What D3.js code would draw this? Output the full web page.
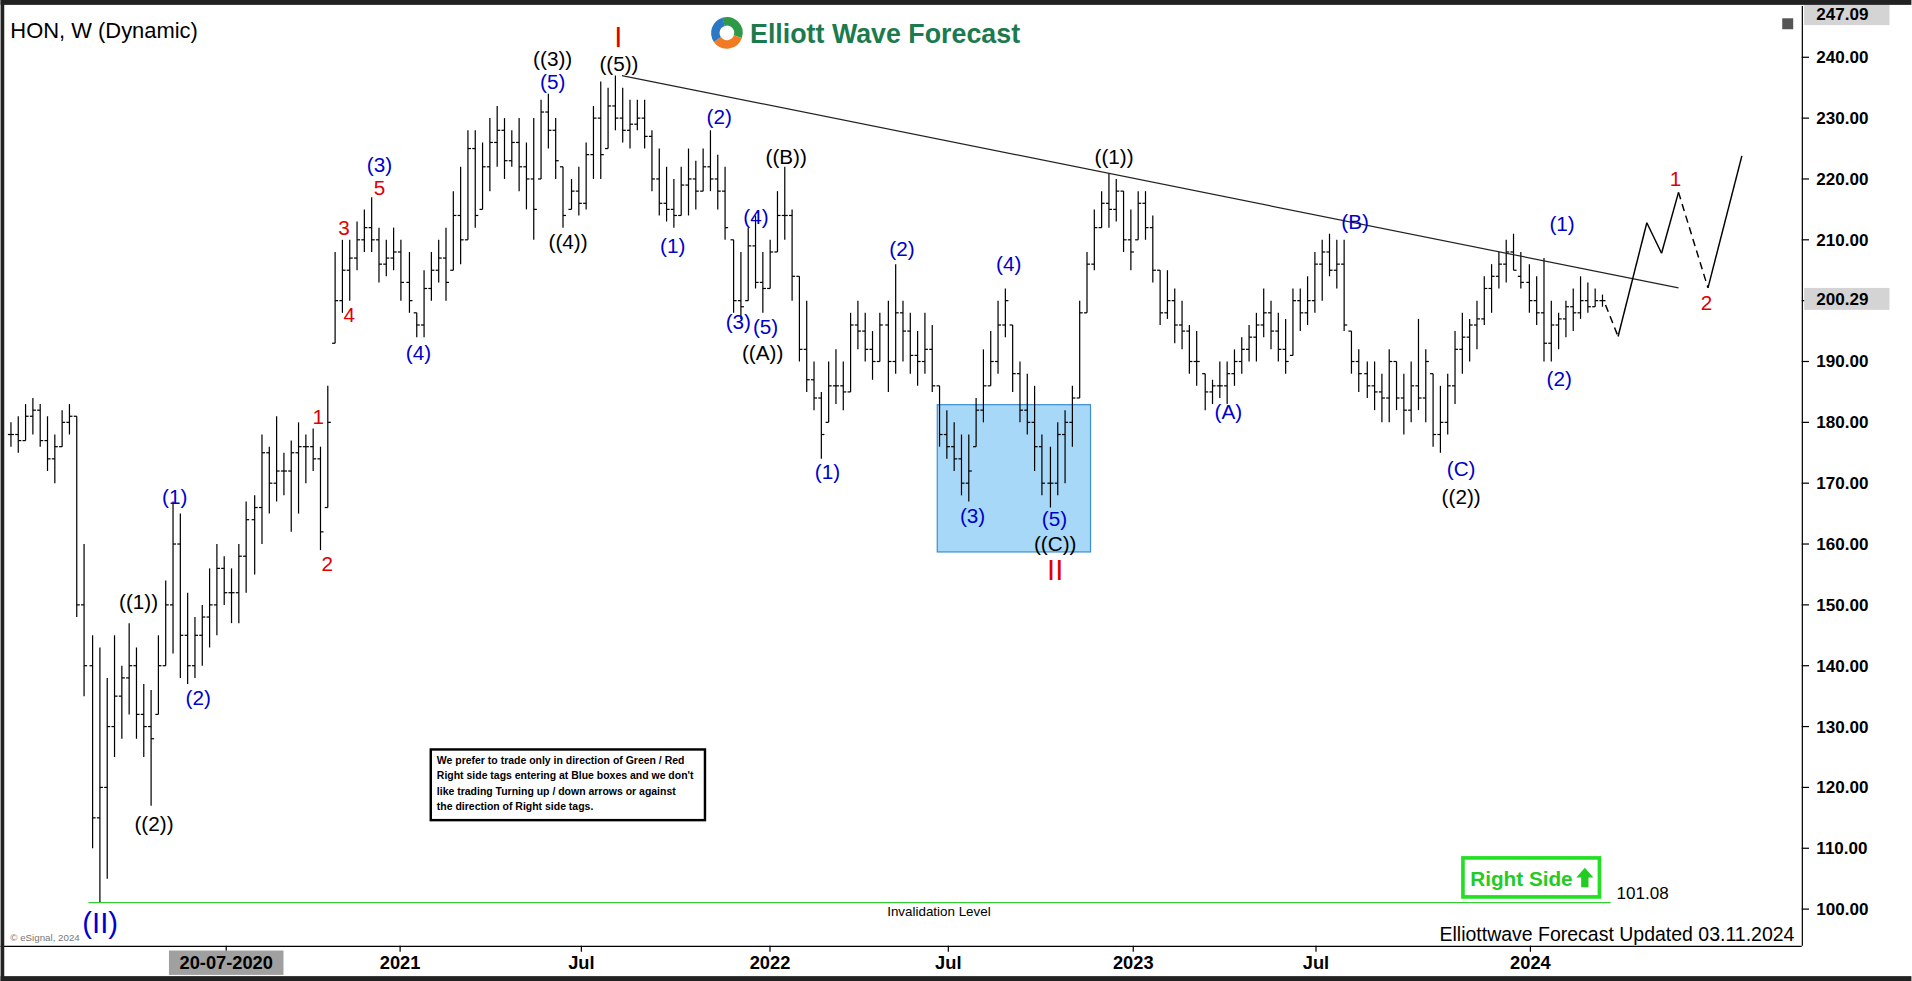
<!DOCTYPE html>
<html>
<head>
<meta charset="utf-8">
<script src="https://cdn.jsdelivr.net/npm/d3@7"></script>
<style>
  body { margin: 0; background: #fff; overflow: hidden; }
  text { font-family: "Liberation Sans", Arial, sans-serif; }
</style>
</head>
<body>
<svg id="chart" width="1912" height="981" viewBox="0 0 1568 805"></svg>
<script>
// weekly bars, HON
var highs = [180,181,183,184,183,181,178,182,183,
  181,160,145,143,138,145,140,147,143,137,136,145,154,167,165,152,148,150,156,160,158,156,160,167,168,178,176,181,175,177,180,178,179,176,186,
  208,210,210,213,215,217,212,210,212,210,208,198,205,208,210,212,218,222,228,228,226,230,232,230,228,230,226,230,233,234,230,222,220,222,226,232,236,235,237,235,
  233,233,233,228,225,222,220,222,225,223,225,228,224,222,210,208,212,214,208,210,218,222,215,204,200,190,185,190,192,190,198,200,198,195,198,200,206,200,198,195,
  198,196,186,182,180,178,178,184,192,195,200,202,196,190,188,186,178,176,180,182,186,200,208,215,218,221,220,218,215,218,218,214,205,205,202,200,196,195,188,187,
  190,190,192,194,196,198,202,200,198,197,202,202,204,208,210,211,210,210,195,192,190,190,188,192,190,188,190,197,192,188,186,188,195,198,197,200,204,206,208,210,
  211,208,206,204,207,200,198,200,202,204,203,202,201];
var lows = [176,175,177,178,176,172,170,176,178,
  148,135,110,101,105,125,128,132,128,125,117,132,140,142,138,137,138,140,143,145,150,147,147,152,155,160,165,167,168,162,165,170,172,159,166,
  193,198,200,205,208,208,203,204,205,200,198,194,194,200,203,200,205,206,210,212,215,218,222,220,222,218,215,210,220,225,220,212,215,214,215,220,220,225,228,226,
  225,228,225,218,214,213,212,214,214,215,218,218,215,210,198,197,200,202,198,202,208,210,200,190,185,182,174,180,183,182,185,192,190,187,190,185,188,190,188,186,
  188,185,176,174,172,168,167,176,180,186,188,194,185,180,178,172,168,166,168,170,176,184,198,205,212,212,213,208,205,210,210,203,196,197,193,192,188,186,182,183,
  184,183,186,188,190,190,194,192,190,188,191,195,196,198,200,204,202,195,188,185,184,182,180,180,182,178,180,182,180,176,175,178,183,188,190,192,196,198,202,203,
  205,202,198,196,190,190,192,194,195,197,198,199,199];
var closes = [178,177,181,182,177,174,176,180,181,
  150,140,115,120,130,135,138,140,132,130,128,140,150,160,145,140,145,148,150,156,152,152,158,164,166,175,170,172,172,175,176,176,174,162,180,
  200,205,207,210,212,210,206,207,208,203,200,196,202,205,207,203,214,210,225,214,222,226,228,223,226,222,220,215,231,228,223,214,218,216,224,230,224,232,230,228,
  229,230,227,220,216,215,214,219,220,218,222,220,218,212,200,199,209,203,202,208,214,214,204,192,187,184,178,186,186,185,196,195,192,190,196,190,198,195,191,190,
  192,186,178,176,174,170,172,182,186,190,196,200,188,182,180,176,170,170,178,180,184,198,206,212,216,215,218,210,208,216,212,205,198,200,196,195,190,190,185,186,
  186,188,190,192,194,196,198,195,192,190,200,198,200,206,208,205,206,196,190,188,186,185,184,190,184,182,186,184,190,178,180,186,192,194,196,197,202,204,206,208,
  204,203,200,198,193,196,197,199,198,200,199,200,200];

var priceTicks = [100,110,120,130,140,150,160,170,180,190,200,210,220,230,240];
var timeTicks = [
  {i: 29.3, label: "20-07-2020", hl: true},
  {i: 52.9, label: "2021"}, {i: 77.5, label: "Jul"}, {i: 103.1, label: "2022"},
  {i: 127.3, label: "Jul"}, {i: 152.4, label: "2023"}, {i: 177.2, label: "Jul"}, {i: 206.3, label: "2024"}
];

// wave labels: bar index, price, text, colour, size
var waveLabels = [
  [12.2, 97.8, "(II)", "#0000cc", 24],
  [17.4, 150.5, "((1))", "#000", 17], [19.5, 114, "((2))", "#000", 17],
  [22.3, 167.7, "(1)", "#0000cc", 17], [25.5, 134.8, "(2)", "#0000cc", 17],
  [41.8, 180.9, "1", "#e00000", 17], [43, 156.7, "2", "#e00000", 17],
  [45.3, 212, "3", "#e00000", 17], [46, 197.7, "4", "#e00000", 17],
  [50.1, 218.6, "5", "#e00000", 17], [50.1, 222.4, "(3)", "#0000cc", 17],
  [55.4, 191.5, "(4)", "#0000cc", 17],
  [73.6, 239.8, "((3))", "#000", 17], [73.6, 236, "(5)", "#0000cc", 17],
  [75.7, 209.6, "((4))", "#000", 17],
  [82.5, 243.4, "I", "#e00000", 24], [82.6, 239, "((5))", "#000", 17],
  [89.9, 209, "(1)", "#0000cc", 17], [96.2, 230.2, "(2)", "#0000cc", 17],
  [105.3, 223.6, "((B))", "#000", 17], [101.2, 213.8, "(4)", "#0000cc", 17],
  [98.8, 196.5, "(3)", "#0000cc", 17], [102.5, 195.7, "(5)", "#0000cc", 17],
  [102.1, 191.5, "((A))", "#000", 17],
  [110.9, 171.9, "(1)", "#0000cc", 17], [121, 208.6, "(2)", "#0000cc", 17],
  [135.5, 206.1, "(4)", "#0000cc", 17], [130.6, 164.7, "(3)", "#0000cc", 17],
  [141.7, 164.1, "(5)", "#0000cc", 17], [141.8, 160.1, "((C))", "#000", 17],
  [141.8, 155.7, "II", "#e00000", 24],
  [149.8, 223.6, "((1))", "#000", 17], [165.3, 181.7, "(A)", "#0000cc", 17],
  [182.5, 213, "(B)", "#0000cc", 17], [196.9, 172.3, "(C)", "#0000cc", 17],
  [196.9, 167.7, "((2))", "#000", 17], [210.6, 212.6, "(1)", "#0000cc", 17],
  [210.2, 187.1, "(2)", "#0000cc", 17],
  [226, 220, "1", "#e00000", 17], [230.2, 199.7, "2", "#e00000", 17]
];

// projected path: [index, price, dashed-from-previous]
var projI = [216.5, 218.2, 222.1, 224.1, 226.4, 230.4, 235];
var projP = [199.3, 194.1, 212.8, 207.8, 217.8, 202.1, 223.8];
var projDash = [false, true, false, false, false, true, false];

var trendI = [83, 226.4], trendP = [237, 202.1];
var boxI = [125.8, 146.6], boxP = [182.9, 158.7];
var invalidI = [10.6, 217.2], invalidP = 101.08;

var svg = d3.select("#chart");
var W = 1568, H = 805;
var x = d3.scaleLinear().domain([0, highs.length - 1]).range([8, 1314]);
var y = d3.scaleLinear().domain([100, 240]).range([746, 47]);

svg.append("rect").attr("width", W).attr("height", H).attr("fill", "#fff");

// blue box
svg.append("rect")
  .attr("x", x(boxI[0])).attr("y", y(boxP[0]))
  .attr("width", x(boxI[1]) - x(boxI[0])).attr("height", y(boxP[1]) - y(boxP[0]))
  .attr("fill", "#a8d8f8").attr("stroke", "#3b8fd0").attr("stroke-width", 1);

// bars
var bars = svg.append("g").attr("stroke", "#000").attr("stroke-width", 1);
highs.forEach(function(h, i) {
  var cx = Math.round(x(i)) + 0.5;
  var c = Math.max(lows[i], Math.min(h, closes[i]));
  var o = i > 0 ? Math.max(lows[i], Math.min(h, closes[i - 1])) : c;
  bars.append("line").attr("x1", cx).attr("x2", cx).attr("y1", y(h)).attr("y2", y(lows[i]));
  bars.append("line").attr("x1", cx - 2.5).attr("x2", cx).attr("y1", y(o)).attr("y2", y(o));
  bars.append("line").attr("x1", cx).attr("x2", cx + 2.5).attr("y1", y(c)).attr("y2", y(c));
});

// trend line
svg.append("line")
  .attr("x1", x(trendI[0])).attr("y1", y(trendP[0]))
  .attr("x2", x(trendI[1])).attr("y2", y(trendP[1]))
  .attr("stroke", "#222").attr("stroke-width", 1);

// projection
for (var k = 1; k < projI.length; k++) {
  svg.append("line")
    .attr("x1", x(projI[k - 1])).attr("y1", y(projP[k - 1]))
    .attr("x2", x(projI[k])).attr("y2", y(projP[k]))
    .attr("stroke", "#000").attr("stroke-width", 1.2)
    .attr("stroke-dasharray", projDash[k] ? "6,4" : null);
}

// invalidation line
svg.append("line")
  .attr("x1", x(invalidI[0])).attr("x2", x(invalidI[1]))
  .attr("y1", y(invalidP)).attr("y2", y(invalidP))
  .attr("stroke", "#33cc33").attr("stroke-width", 1);
svg.append("text").attr("x", 770).attr("y", y(invalidP) + 11)
  .attr("text-anchor", "middle").attr("font-size", 11).text("Invalidation Level");
svg.append("text").attr("x", 1326).attr("y", y(invalidP) - 3)
  .attr("font-size", 14).text("101.08");

// wave labels
svg.append("g").selectAll("text").data(waveLabels).enter().append("text")
  .attr("x", function(d) { return x(d[0]); })
  .attr("y", function(d) { return y(d[1]); })
  .attr("dy", "0.35em").attr("text-anchor", "middle")
  .attr("fill", function(d) { return d[3]; })
  .attr("font-size", function(d) { return d[4]; })
  .text(function(d) { return d[2]; });

// right axis
var ax = svg.append("g");
ax.append("line").attr("x1", 1478.5).attr("x2", 1478.5).attr("y1", 5).attr("y2", 776).attr("stroke", "#000");
priceTicks.forEach(function(p) {
  ax.append("line").attr("x1", 1478).attr("x2", 1484).attr("y1", y(p)).attr("y2", y(p)).attr("stroke", "#000");
  ax.append("text").attr("x", 1490).attr("y", y(p)).attr("dy", "0.35em")
    .attr("font-size", 14).attr("font-weight", "bold").text(p.toFixed(2));
});
function tag(v, val) {
  ax.append("rect").attr("x", 1480).attr("y", y(v) - 9).attr("width", 70).attr("height", 18).attr("fill", "#d4d4d4");
  ax.append("text").attr("x", 1490).attr("y", y(v)).attr("dy", "0.35em")
    .attr("font-size", 14).attr("font-weight", "bold").text(val);
}
tag(247.09, "247.09");
tag(200.29, "200.29");
ax.append("rect").attr("x", 1462).attr("y", 15).attr("width", 9).attr("height", 9).attr("fill", "#555");

// bottom axis
var bx = svg.append("g");
bx.append("line").attr("x1", 0).attr("x2", 1478).attr("y1", 776.5).attr("y2", 776.5).attr("stroke", "#000");
timeTicks.forEach(function(t) {
  var tx = x(t.i);
  bx.append("line").attr("x1", tx).attr("x2", tx).attr("y1", 776).attr("y2", 781).attr("stroke", "#000");
  if (t.hl) bx.append("rect").attr("x", tx - 47).attr("y", 780).attr("width", 94).attr("height", 20).attr("fill", "#a0a0a0");
  bx.append("text").attr("x", tx).attr("y", 790).attr("dy", "0.35em").attr("text-anchor", "middle")
    .attr("font-size", 15).attr("font-weight", "bold").text(t.label);
});

// titles
svg.append("text").attr("x", 8).attr("y", 31).attr("font-size", 18).text("HON, W (Dynamic)");
svg.append("text").attr("x", 1472).attr("y", 772).attr("text-anchor", "end").attr("font-size", 16)
  .text("Elliottwave Forecast Updated 03.11.2024");
svg.append("text").attr("x", 8).attr("y", 772).attr("font-size", 8).attr("fill", "#777").text("© eSignal, 2024");

// logo
var lg = svg.append("g").attr("transform", "translate(596,27)");
var arcG = d3.arc().innerRadius(6).outerRadius(13);
[["#2e9a48", -0.3, 1.9], ["#f07b22", 1.9, 4.1], ["#2b78c4", 4.1, 6.0]].forEach(function(a) {
  lg.append("path").attr("d", arcG({startAngle: a[1], endAngle: a[2]})).attr("fill", a[0]);
});
svg.append("text").attr("x", 615).attr("y", 35).attr("font-size", 22).attr("font-weight", "bold")
  .attr("fill", "#1b7a4e").text("Elliott Wave Forecast");

// note box
var nb = svg.append("g").attr("transform", "translate(353,615)");
nb.append("rect").attr("width", 225).attr("height", 58).attr("fill", "#fff").attr("stroke", "#000").attr("stroke-width", 2);
["We prefer to trade only in direction of Green / Red",
 "Right side tags entering at Blue boxes and we don't",
 "like trading Turning up / down arrows or against",
 "the direction of Right side tags."].forEach(function(s, i) {
  nb.append("text").attr("x", 5).attr("y", 12 + i * 12.5).attr("font-size", 8.6).attr("font-weight", "bold").text(s);
});

// right side tag
var rs = svg.append("g").attr("transform", "translate(1200,704)");
rs.append("rect").attr("width", 112).attr("height", 32).attr("fill", "#fff").attr("stroke", "#22e022").attr("stroke-width", 3);
rs.append("text").attr("x", 6).attr("y", 23).attr("font-size", 17).attr("font-weight", "bold")
  .attr("textLength", 84).attr("lengthAdjust", "spacingAndGlyphs")
  .attr("fill", "#22cc22").text("Right Side");
rs.append("path").attr("d", "M100,8 L107,16 L103,16 L103,24 L97,24 L97,16 L93,16 Z").attr("fill", "#22cc22");

// frame
svg.append("rect").attr("x", 0).attr("y", 0).attr("width", W).attr("height", 4).attr("fill", "#222");
svg.append("rect").attr("x", 0).attr("y", 0).attr("width", 3).attr("height", H).attr("fill", "#222");
svg.append("rect").attr("x", 0).attr("y", H - 4).attr("width", W).attr("height", 4).attr("fill", "#222");
</script>
</body>
</html>
